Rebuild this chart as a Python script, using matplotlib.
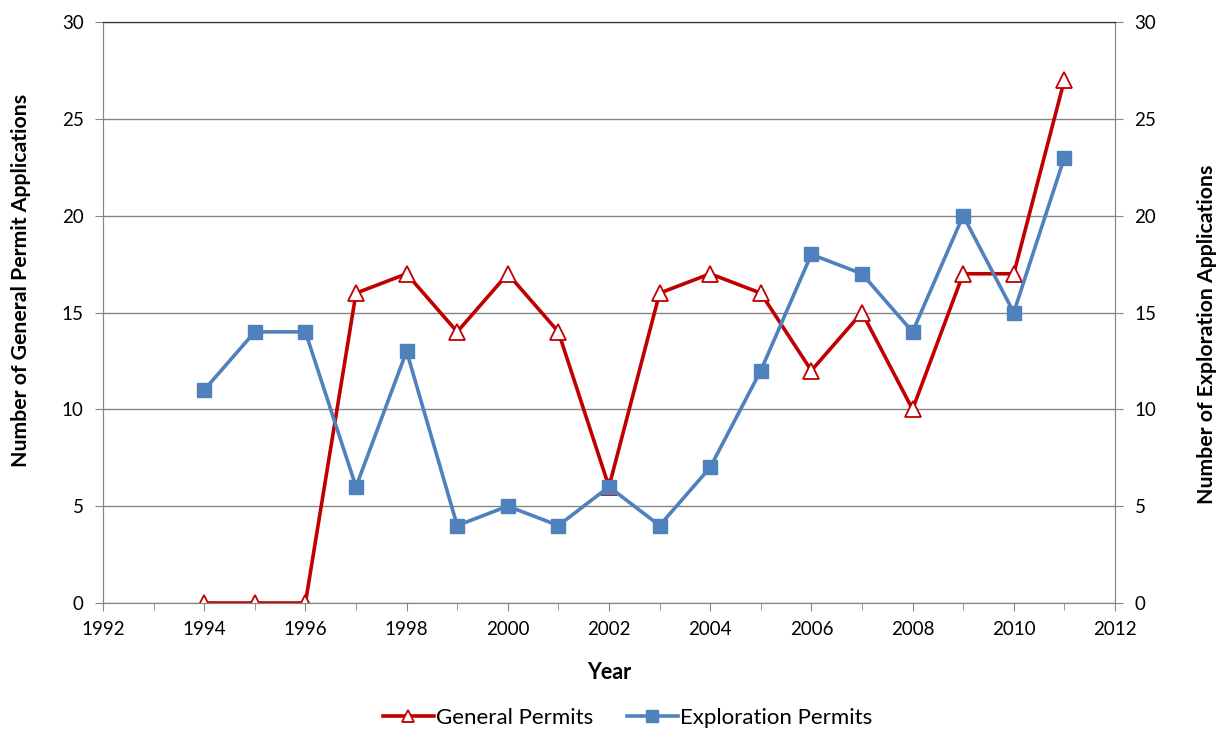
import matplotlib.pyplot as plt
from matplotlib.ticker import MultipleLocator

years = list(range(1994, 2012))
general = [0, 0, 0, 16, 17, 14, 17, 14, 6, 16, 17, 16, 12, 15, 10, 17, 17, 27]
exploration = [11, 14, 14, 6, 13, 4, 5, 4, 6, 4, 7, 12, 18, 17, 14, 20, 15, 23]

plt.rcParams['font.family'] = ['Lato', 'DejaVu Sans']

red = '#C00000'
blue = '#4F81BD'
grey = '#868686'

fig = plt.figure(figsize=(12.22, 7.31), dpi=100)
ax = fig.add_axes([0.0843, 0.1751, 0.8281, 0.7948])
ax2 = ax.twinx()

l1, = ax.plot(years, general, color=red, lw=2.6, marker='^', markersize=11,
              markerfacecolor='white', markeredgecolor=red, markeredgewidth=1.3,
              label='General Permits', zorder=3)
l2, = ax2.plot(years, exploration, color=blue, lw=2.6, marker='s', markersize=10,
               markerfacecolor=blue, markeredgecolor=blue,
               label='Exploration Permits', zorder=3)

for a in (ax, ax2):
    a.set_ylim(0, 30)
    a.yaxis.set_major_locator(MultipleLocator(5))
    for s in a.spines.values():
        s.set_color(grey)
    a.spines['top'].set_color('#303030')
    a.tick_params(axis='y', length=6, color=grey, labelsize=13.5, pad=8)

ax.set_xlim(1992, 2012)
ax.xaxis.set_major_locator(MultipleLocator(2))
ax.xaxis.set_minor_locator(MultipleLocator(1))
ax.tick_params(axis='x', which='major', length=6, color=grey, labelsize=13.5, pad=7)
ax.tick_params(axis='x', which='minor', length=5, color=grey)
ax.grid(axis='y', color=grey, lw=1)
ax.set_axisbelow(True)

ax.set_xlabel('Year', fontsize=15.5, fontweight='bold', labelpad=17)
ax.set_ylabel('Number of General Permit Applications', fontsize=15.3,
              fontweight='bold')
ax.yaxis.set_label_coords(-0.071, 0.556)
ax2.set_ylabel('Number of Exploration Applications', fontsize=15.3,
               fontweight='bold')
ax2.yaxis.set_label_coords(1.081, 0.463)

fig.legend(handles=[l1, l2], loc='center', bbox_to_anchor=(0.5135, 0.018),
           ncol=2, frameon=False, fontsize=16, handlelength=2.3,
           columnspacing=1.5, handletextpad=0.1, markerscale=0.85)

fig.savefig('out.png', dpi=100)
